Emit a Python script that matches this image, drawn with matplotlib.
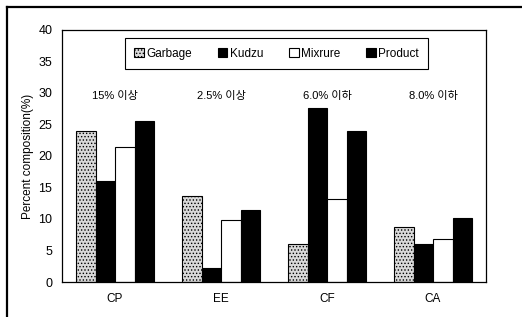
import matplotlib.pyplot as plt
import numpy as np
from matplotlib.lines import Line2D

plt.rcParams['font.family'] = ['Liberation Sans', 'Noto Sans CJK KR']
plt.rcParams['hatch.color'] = '#808080'
plt.rcParams['hatch.linewidth'] = 0.6

# chart data
categories = ["CP", "EE", "CF", "CA"]
series_names = ["Garbage", "Kudzu", "Mixrure", "Product"]
garbage = [24.0, 13.6, 6.0, 8.7]
kudzu = [16.0, 2.2, 27.6, 6.0]
mixture = [21.4, 9.9, 13.1, 6.9]
product = [25.6, 11.5, 23.9, 10.1]
criteria = ["15% 이상", "2.5% 이상", "6.0% 이하", "8.0% 이하"]

fig = plt.figure(figsize=(5.22, 3.17), dpi=100)
ax = fig.add_axes([0.1188, 0.1104, 0.8123, 0.795])

x = np.arange(len(categories))
w = 0.184
styles = [
    dict(facecolor="#d9d9d9", edgecolor="black", hatch="....."),
    dict(facecolor="black", edgecolor="black"),
    dict(facecolor="white", edgecolor="black"),
    dict(facecolor="black", edgecolor="black"),
]
all_series = [garbage, kudzu, mixture, product]
for i, (name, vals) in enumerate(zip(series_names, all_series)):
    ax.bar(x + (i - 1.5) * w, vals, width=w, linewidth=0.8, label=name, **styles[i])

# criteria labels above each group
for xi, txt in zip(x, criteria):
    ax.text(xi, 29.6, txt, ha="center", va="center", fontsize=8)

ax.set_xlim(-0.5, 3.5)
ax.set_ylim(0, 40)
ax.set_yticks(range(0, 41, 5))
ax.set_xticks(x)
ax.set_xticklabels(categories)
ax.tick_params(axis="x", length=0, pad=8, labelsize=8.5)
ax.tick_params(axis="y", length=0, pad=7, labelsize=9)
ax.set_ylabel("Percent composition(%)", fontsize=8.5, labelpad=3)
for s in ax.spines.values():
    s.set_linewidth(0.9)

leg = ax.legend(loc="upper center", bbox_to_anchor=(0.506, 0.99), ncol=4,
                fontsize=8.5, frameon=True, fancybox=False, edgecolor="black",
                framealpha=1, handlelength=0.8, handleheight=0.8,
                handletextpad=0.2, columnspacing=2.2, borderpad=0.8)
leg.get_frame().set_linewidth(0.8)

# outer frame (top and left edges visible)
fig.add_artist(Line2D([7 / 522, 1], [1 - 7 / 317, 1 - 7 / 317], color="black", linewidth=1.6))
fig.add_artist(Line2D([7 / 522, 7 / 522], [0, 1 - 7 / 317], color="black", linewidth=1.6))

fig.savefig("out.png", dpi=100)
